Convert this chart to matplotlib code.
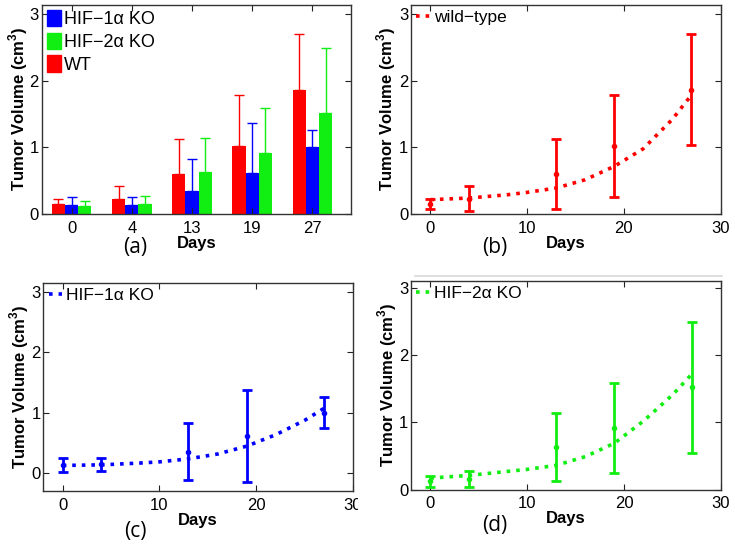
import numpy as np
import matplotlib
matplotlib.use("Agg")
import matplotlib.pyplot as plt
from matplotlib.patches import Rectangle
from matplotlib.lines import Line2D

plt.rcParams['font.family'] = ['Liberation Sans', 'DejaVu Sans']
plt.rcParams['mathtext.fontset'] = 'custom'
plt.rcParams['mathtext.rm'] = 'Liberation Sans'
plt.rcParams['mathtext.bf'] = 'Liberation Sans:bold'

# measured tumour volumes (cm^3), mean and SD per day
days = [0, 4, 13, 19, 27]
wt_mean = [0.15, 0.23, 0.60, 1.02, 1.87]
wt_sd = [0.07, 0.19, 0.53, 0.77, 0.84]
ko1_mean = [0.13, 0.14, 0.35, 0.61, 1.00]
ko1_sd = [0.12, 0.11, 0.47, 0.76, 0.26]
ko2_mean = [0.12, 0.15, 0.63, 0.92, 1.52]
ko2_sd = [0.08, 0.12, 0.51, 0.67, 0.98]

# model fit curves
fit_days = [0, 4, 8, 10, 13, 16, 19, 22, 25, 27]
wt_fit = [0.215, 0.24, 0.29, 0.325, 0.39, 0.515, 0.715, 0.98, 1.42, 1.79]
ko1_fit = [0.12, 0.13, 0.16, 0.18, 0.23, 0.31, 0.44, 0.63, 0.87, 1.07]
ko2_fit = [0.17, 0.21, 0.27, 0.30, 0.36, 0.49, 0.69, 1.02, 1.41, 1.72]

RED = '#ff0000'
BLUE = '#0000ff'
GREEN = '#11ee11'

W, H = 735, 548
fig = plt.figure(figsize=(W / 100, H / 100), dpi=100)


def px_axes(l, t, r, b):
    return fig.add_axes([l / W, 1 - b / H, (r - l) / W, (b - t) / H])


def style(ax, ylab_px):
    ax.tick_params(direction='in', length=4, width=0.8, top=True, right=True,
                   labelsize=12, pad=5, colors='#222222', labelcolor='black')
    ax.tick_params(axis='y', pad=2)
    for s in ax.spines.values():
        s.set_color('#333333')
        s.set_linewidth(1.0)
    ax.set_ylabel('Tumor Volume (cm$^\\mathbf{3}$)', fontsize=12, fontweight='bold',
                  va='center')
    l = ax.get_position().x0 * W
    w = ax.get_position().width * W
    ax.yaxis.set_label_coords((ylab_px - l) / w, 0.5)
    ax.set_xlabel('Days', fontsize=12, fontweight='bold', labelpad=0)


# (a) grouped bar chart
ax = px_axes(41.5, 4.5, 351, 214)
x = np.arange(1, len(days) + 1)
bw = 0.22
for off, mean, sd, c in [(-bw, wt_mean, wt_sd, RED),
                         (0, ko1_mean, ko1_sd, BLUE),
                         (bw, ko2_mean, ko2_sd, GREEN)]:
    ax.bar(x + off, mean, width=bw, color=c, edgecolor='none')
    ax.errorbar(x + off, mean, yerr=[np.zeros(len(sd)), sd], fmt='none',
                ecolor=c, elinewidth=1.0, capsize=3.5, capthick=1.0)
ax.set_xlim(0.5, 5.64)
ax.set_ylim(0, 3.15)
ax.set_xticks(x)
ax.set_xticklabels([str(d) for d in days])
ax.set_yticks([0, 1, 2, 3])
style(ax, 18)
handles = [Rectangle((0, 0), 1, 1, color=BLUE), Rectangle((0, 0), 1, 1, color=GREEN),
           Rectangle((0, 0), 1, 1, color=RED)]
ax.legend(handles, ['HIF\u22121\u03b1 KO', 'HIF\u22122\u03b1 KO', 'WT'], loc='upper left',
          frameon=False, fontsize=13, handlelength=0.8, handleheight=1.0,
          handletextpad=0.15, labelspacing=0.25, borderaxespad=0.2, borderpad=0.1)


def fit_panel(box, mean, sd, fit, color, label, ylim, ylab_px):
    ax = px_axes(*box)
    ax.plot(fit_days, fit, ':', color=color, lw=2.6)
    ax.errorbar(days, mean, yerr=sd, fmt='.', color=color, ms=6,
                elinewidth=2.0, capsize=3.5, capthick=2.0)
    ax.set_xlim(-2, 30)
    ax.set_ylim(*ylim)
    ax.set_xticks([0, 10, 20, 30])
    ax.set_yticks([0, 1, 2, 3])
    style(ax, ylab_px)
    h = Line2D([0], [0], ls=':', color=color, lw=2.6)
    ax.legend([h], [label], loc='upper left', frameon=False, fontsize=12.5,
              handlelength=0.8, handletextpad=0.2, borderaxespad=0.2, borderpad=0.1)
    return ax


fit_panel((411, 4.5, 720.5, 214), wt_mean, wt_sd, wt_fit, RED, 'wild\u2212type',
          (0, 3.15), 386)
fit_panel((43.3, 282.7, 353, 490.7), ko1_mean, ko1_sd, ko1_fit, BLUE,
          'HIF\u22121\u03b1 KO', (-0.3, 3.16), 19)
fit_panel((411, 280.7, 721, 489.5), ko2_mean, ko2_sd, ko2_fit, GREEN,
          'HIF\u22122\u03b1 KO', (0, 3.11), 387)

# panel letters
for lab, xp, yp in [('(a)', 135, 248), ('(b)', 495, 248), ('(c)', 135, 531), ('(d)', 495, 526)]:
    fig.text(xp / W, 1 - yp / H, lab, fontsize=15, family=['Open Sans', 'DejaVu Sans'],
             ha='center', va='center')

# crop edge of the (c) panel and divider line under (b)
fig.patches.append(Rectangle((358 / W, 1 - 512 / H), 8 / W, 24 / H, transform=fig.transFigure,
                             facecolor='white', edgecolor='none', zorder=10))
fig.lines.append(Line2D([415 / W, 722 / W], [1 - 276 / H, 1 - 276 / H],
                        transform=fig.transFigure, color='#d8d8d8', lw=1.2))

fig.savefig('out.png', dpi=100)
